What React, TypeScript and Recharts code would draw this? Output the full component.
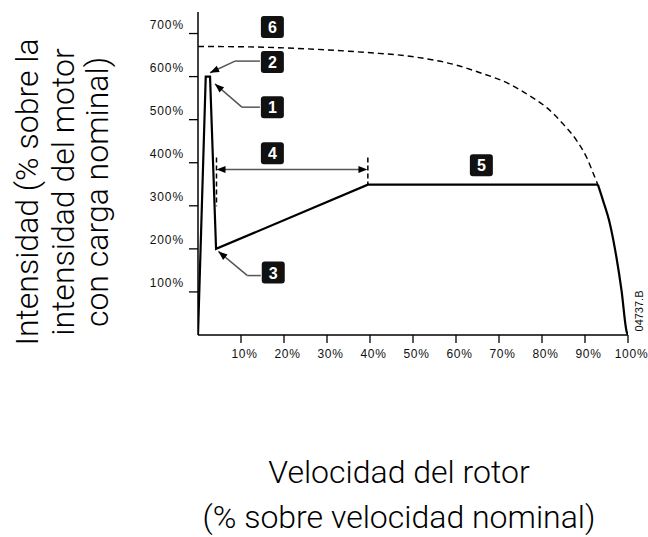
import React from "react";
import { LineChart, Line, XAxis, YAxis, ReferenceLine, ReferenceDot, Label } from "recharts";

// rotor speed (% of nominal) and motor current (% of full load current)
const speedTicks = [10, 20, 30, 40, 50, 60, 70, 80, 90, 100];
const currentTicks = [100, 200, 300, 400, 500, 600, 700];

// soft start current profile (solid): ramp part
const softSpeed = [0, 1.8, 2.8, 4.2, 39.5, 93];
const softCurrent = [0, 600, 600, 200, 349, 349];

// soft start current profile (solid): fall-off near full speed
const dropSpeed = [93, 94.2, 95.8, 97.3, 98.5, 99.7, 100];
const dropCurrent = [349, 312, 258, 181, 103, 7, 0];

// direct on line current (dashed)
const dolSpeed = [0, 12, 19, 35, 42, 46, 55, 58, 65.6, 72.6, 77.2, 81.1, 85, 88.1, 90.4, 92.3, 93];
const dolCurrent = [670, 669, 667, 659, 654, 651, 638, 632, 609, 582, 555, 528, 489, 451, 412, 366, 349];

const softData = softSpeed.map((s, i) => ({ speed: s, current: softCurrent[i] }));
const dropData = dropSpeed.map((s, i) => ({ speed: s, current: dropCurrent[i] }));
const dolData = dolSpeed.map((s, i) => ({ speed: s, current: dolCurrent[i] }));

// numbered callouts
const calloutLabels = ["6", "2", "1", "4", "3", "5"];
const calloutSpeed = [17.3, 17.3, 17.3, 17.3, 17.5, 65.9];
const calloutCurrent = [715, 634, 529, 422, 145, 394];

const tickFont = "'Liberation Sans', Arial, sans-serif";
const titleFont = "Roboto, 'Noto Sans', sans-serif";

const YTick = (props: any) => {
  const { x, y, payload } = props;
  return (
    <text x={x} y={y - 5} textAnchor="end" fontSize={12} fontFamily={tickFont} fill="#111" letterSpacing={0.9}>
      {payload.value}%
    </text>
  );
};

const XTick = (props: any) => {
  const { x, y, payload } = props;
  return (
    <text x={x + 3.5} y={y + 12} textAnchor="middle" fontSize={12} fontFamily={tickFont} fill="#111" letterSpacing={0.7}>
      {payload.value}%
    </text>
  );
};

const head = (tx: number, ty: number, fx: number, fy: number, key: string) => {
  const a = Math.atan2(ty - fy, tx - fx);
  const len = 9;
  const w = 3.5;
  const bx = tx - len * Math.cos(a);
  const by = ty - len * Math.sin(a);
  const px = -Math.sin(a) * w;
  const py = Math.cos(a) * w;
  return <polygon key={key} points={`${tx},${ty} ${bx + px},${by + py} ${bx - px},${by - py}`} fill="#000" />;
};

const plainSeg = (p: any) => (
  <line x1={p.x1} y1={p.y1} x2={p.x2} y2={p.y2} stroke="#555" strokeWidth={1.5} />
);

const arrowSeg = (p: any) => (
  <g>
    <line x1={p.x1} y1={p.y1} x2={p.x2} y2={p.y2} stroke="#555" strokeWidth={1.5} />
    {head(p.x2, p.y2, p.x1, p.y1, "h")}
  </g>
);

const doubleSeg = (p: any) => (
  <g>
    <line x1={p.x1 + 6} y1={p.y1} x2={p.x2 - 6} y2={p.y2} stroke="#555" strokeWidth={1.5} />
    {head(p.x1, p.y1, p.x2, p.y2, "a")}
    {head(p.x2, p.y2, p.x1, p.y1, "b")}
  </g>
);

const dashSeg = (p: any) => (
  <line x1={p.x1} y1={p.y1} x2={p.x2} y2={p.y2} stroke="#000" strokeWidth={1.5} strokeDasharray="5 3" />
);

const box = (label: string) => (p: any) => (
  <g>
    <rect x={p.cx - 11.5} y={p.cy - 11} width={23} height={22} rx={3} fill="#111" />
    <text x={p.cx} y={p.cy + 6} textAnchor="middle" fontSize={16} fontWeight="bold" fontFamily={tickFont} fill="#fff">
      {label}
    </text>
  </g>
);

const renderXTitle = () => (
  <g>
    <text x={399} y={483} textAnchor="middle" fontSize={32} fontWeight={300} fontFamily={titleFont} fill="#000">
      Velocidad del rotor
    </text>
    <text x={399} y={528} textAnchor="middle" fontSize={32} fontWeight={300} fontFamily={titleFont} fill="#000">
      (% sobre velocidad nominal)
    </text>
    <text transform="translate(642.5,311) rotate(-90)" textAnchor="middle" fontSize={11} fontFamily={tickFont} fill="#111">
      04737.B
    </text>
  </g>
);

const renderYTitle = () => (
  <g transform="rotate(-90)">
    <text x={-192} y={38} textAnchor="middle" fontSize={32} fontWeight={300} fontFamily={titleFont} fill="#000">
      Intensidad (% sobre la
    </text>
    <text x={-192} y={73.5} textAnchor="middle" fontSize={32} fontWeight={300} fontFamily={titleFont} fill="#000">
      intensidad del motor
    </text>
    <text x={-192} y={108} textAnchor="middle" fontSize={32} fontWeight={300} fontFamily={titleFont} fill="#000">
      con carga nominal)
    </text>
  </g>
);

export default function App() {
  return (
    <div style={{ position: "absolute", left: 0, top: 0, width: 648, height: 537, background: "#fff" }}>
      <LineChart width={648} height={537} margin={{ top: 12, right: 20, bottom: 172, left: 138 }}>
        <XAxis
          type="number"
          dataKey="speed"
          domain={[0, 100]}
          ticks={speedTicks}
          allowDataOverflow
          height={30}
          tickSize={8}
          tickMargin={3}
          tick={<XTick />}
          axisLine={{ stroke: "#000", strokeWidth: 1.5 }}
          tickLine={{ stroke: "#000", strokeWidth: 1.3 }}
        >
          <Label content={renderXTitle} />
        </XAxis>
        <YAxis
          type="number"
          dataKey="current"
          domain={[0, 750]}
          ticks={currentTicks}
          allowDataOverflow
          width={60}
          tickSize={9}
          tickMargin={5}
          tick={<YTick />}
          axisLine={{ stroke: "#000", strokeWidth: 1.5 }}
          tickLine={{ stroke: "#000", strokeWidth: 1.3 }}
        >
          <Label content={renderYTitle} />
        </YAxis>
        <Line
          data={dolData}
          dataKey="current"
          type="monotone"
          stroke="#000"
          strokeWidth={1.4}
          strokeDasharray="6 4"
          dot={false}
          activeDot={false}
          isAnimationActive={false}
        />
        <Line
          data={softData}
          dataKey="current"
          type="linear"
          stroke="#000"
          strokeWidth={2.2}
          dot={false}
          activeDot={false}
          isAnimationActive={false}
        />
        <Line
          data={dropData}
          dataKey="current"
          type="monotone"
          stroke="#000"
          strokeWidth={2.2}
          dot={false}
          activeDot={false}
          isAnimationActive={false}
        />
        <ReferenceLine segment={[{ x: 4.3, y: 412 }, { x: 4.3, y: 299 }]} shape={dashSeg} />
        <ReferenceLine segment={[{ x: 39.5, y: 412 }, { x: 39.5, y: 349 }]} shape={dashSeg} />
        <ReferenceLine segment={[{ x: 4.3, y: 384 }, { x: 39.4, y: 384 }]} shape={doubleSeg} />
        <ReferenceLine segment={[{ x: 14.4, y: 636 }, { x: 8.6, y: 636 }]} shape={plainSeg} />
        <ReferenceLine segment={[{ x: 8.6, y: 636 }, { x: 2.8, y: 609 }]} shape={arrowSeg} />
        <ReferenceLine segment={[{ x: 14.4, y: 529 }, { x: 10.2, y: 529 }]} shape={plainSeg} />
        <ReferenceLine segment={[{ x: 10.2, y: 529 }, { x: 3.95, y: 583 }]} shape={arrowSeg} />
        <ReferenceLine segment={[{ x: 14.6, y: 138 }, { x: 11.5, y: 138 }]} shape={plainSeg} />
        <ReferenceLine segment={[{ x: 11.5, y: 138 }, { x: 4.75, y: 194 }]} shape={arrowSeg} />
        {calloutLabels.map((l, i) => (
          <ReferenceDot key={l} x={calloutSpeed[i]} y={calloutCurrent[i]} r={1} shape={box(l)} ifOverflow="visible" />
        ))}
      </LineChart>
    </div>
  );
}
